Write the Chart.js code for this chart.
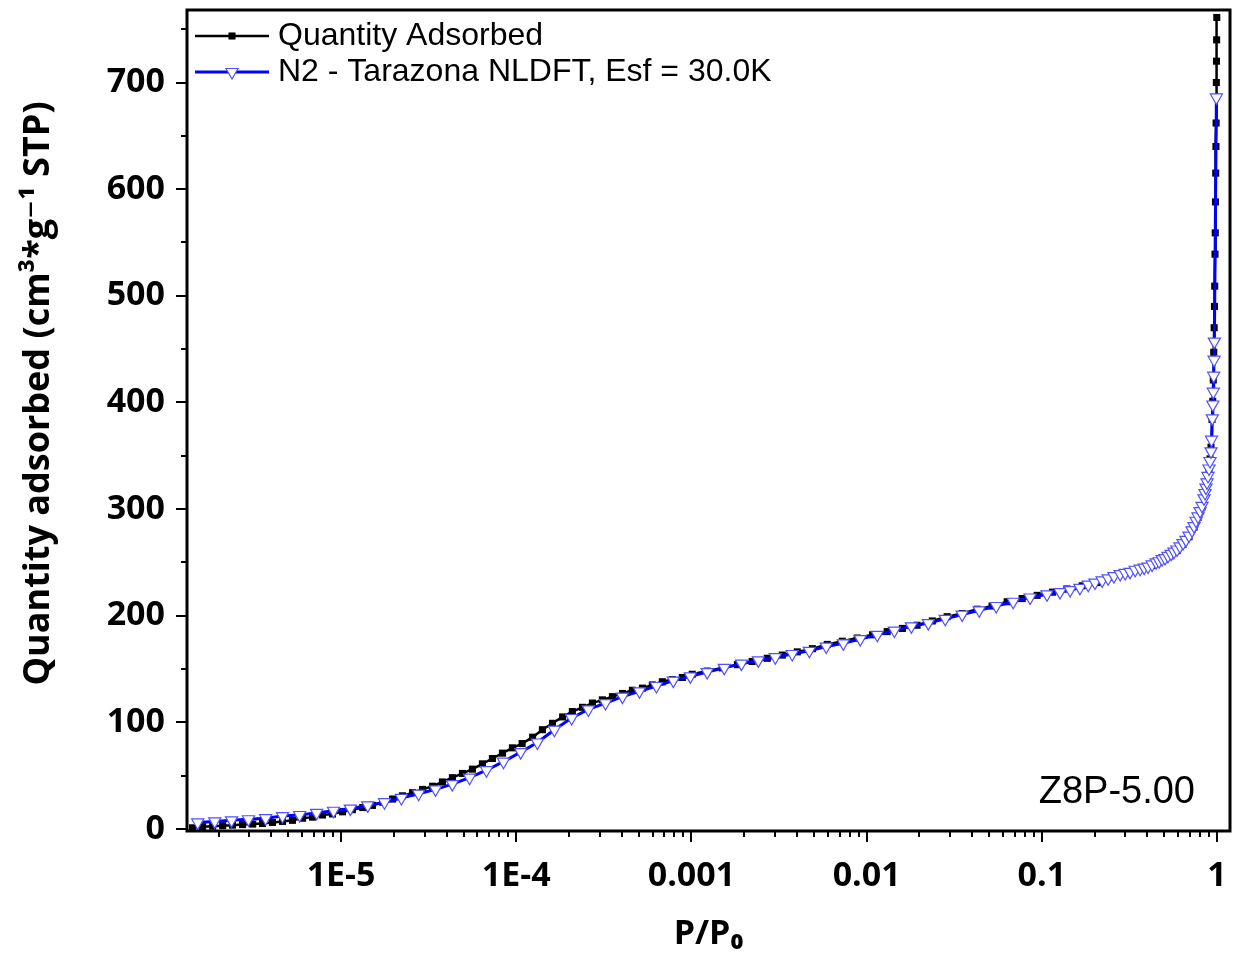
<!DOCTYPE html>
<html>
<head>
<meta charset="utf-8">
<title>Z8P-5.00 N2 isotherm</title>
<script src="https://cdn.jsdelivr.net/npm/chart.js@4.4.1/dist/chart.umd.min.js"></script>
<style>
  body { margin: 0; background: #fff; }
  canvas { display: block; }
</style>
</head>
<body>
<canvas id="myChart" width="1233" height="957"></canvas>
<script>
// measured isotherm: relative pressure P/P0 and quantity adsorbed (cm3/g STP)
const measuredP = [
  1.42e-6, 1.62e-6, 1.85e-6, 2.11e-6, 2.40e-6, 2.74e-6, 3.13e-6, 3.56e-6, 4.06e-6, 4.63e-6,
  5.28e-6, 6.03e-6, 6.87e-6, 7.83e-6, 8.93e-6, 1.02e-5, 1.16e-5, 1.33e-5, 1.51e-5, 1.73e-5,
  1.97e-5, 2.24e-5, 2.56e-5, 2.92e-5, 3.33e-5, 3.79e-5, 4.32e-5, 4.93e-5, 5.62e-5, 6.41e-5,
  7.31e-5, 8.34e-5, 9.51e-5, 1.08e-4, 1.24e-4, 1.41e-4, 1.61e-4, 1.84e-4, 2.09e-4, 2.39e-4,
  2.72e-4, 3.10e-4, 3.54e-4, 4.04e-4, 4.60e-4, 5.25e-4, 5.98e-4, 6.82e-4, 7.78e-4, 8.87e-4,
  1.01e-3, 1.23e-3, 1.50e-3, 1.83e-3, 2.22e-3, 2.71e-3, 3.30e-3, 4.02e-3, 4.90e-3, 5.96e-3,
  7.26e-3, 8.84e-3, 1.08e-2, 1.31e-2, 1.60e-2, 1.94e-2, 2.37e-2, 2.88e-2, 3.51e-2, 4.28e-2,
  5.20e-2, 6.34e-2, 7.72e-2, 9.40e-2, 0.115, 0.139, 0.170, 0.207, 0.252, 0.307,
  0.373, 0.426, 0.486, 0.540, 0.591, 0.640, 0.692, 0.739, 0.779, 0.821,
  0.854, 0.877, 0.900, 0.912, 0.924, 0.936, 0.945, 0.952, 0.958, 0.963,
  0.967, 0.970, 0.974, 0.977, 0.980, 0.983, 0.986, 0.988, 0.991, 0.993,
  0.995, 0.997
];
const measuredQ = [
  1, 2, 2.5, 3, 3.5, 4, 4.5, 5, 6, 7,
  8, 10, 11, 13, 14, 16, 18, 20, 22, 25,
  28, 31, 34, 37, 40, 44, 48, 52, 56, 61,
  66, 71, 76, 80, 86, 93, 99, 105, 110, 114,
  118, 121, 124, 127, 130, 132, 135, 138, 140, 142,
  145, 148, 151, 154, 157, 160, 163, 166, 169, 173,
  176, 179, 182, 185, 188, 191, 195, 199, 202, 206,
  209, 213, 216, 219, 222, 225, 228, 231, 236, 240,
  244, 247, 252, 256, 261, 267, 274, 283, 292, 302,
  314, 325, 338, 347, 358, 384, 401, 421, 447, 470,
  490, 509, 539, 559, 588, 615, 640, 662, 700, 720,
  740, 761
];

// NLDFT (Tarazona, Esf = 30.0K) fit
const fitP = [
  1.52e-6, 1.90e-6, 2.37e-6, 2.96e-6, 3.71e-6, 4.63e-6, 5.80e-6, 7.25e-6, 9.06e-6, 1.13e-5,
  1.42e-5, 1.77e-5, 2.21e-5, 2.77e-5, 3.46e-5, 4.32e-5, 5.41e-5, 6.76e-5, 8.45e-5, 1.06e-4,
  1.32e-4, 1.65e-4, 2.07e-4, 2.58e-4, 3.23e-4, 4.04e-4, 5.05e-4, 6.31e-4, 7.88e-4, 9.86e-4,
  1.23e-3, 1.54e-3, 1.93e-3, 2.41e-3, 3.01e-3, 3.76e-3, 4.71e-3, 5.88e-3, 7.36e-3, 9.20e-3,
  1.15e-2, 1.44e-2, 1.80e-2, 2.25e-2, 2.81e-2, 3.51e-2, 4.39e-2, 5.49e-2, 6.86e-2, 8.57e-2,
  0.107, 0.127, 0.145, 0.165, 0.184, 0.201, 0.221, 0.239, 0.258, 0.280,
  0.299, 0.319, 0.341, 0.364, 0.384, 0.404, 0.426, 0.449, 0.467, 0.486,
  0.505, 0.525, 0.547, 0.568, 0.591, 0.615, 0.640, 0.665, 0.692, 0.720,
  0.739, 0.759, 0.779, 0.800, 0.821, 0.843, 0.854, 0.865, 0.877, 0.888,
  0.900, 0.912, 0.924, 0.930, 0.940, 0.946, 0.952, 0.957, 0.962, 0.966,
  0.992
];
const fitQ = [
  6, 7, 8, 9, 10, 12, 13, 15, 17, 19,
  22, 25, 29, 33, 37, 42, 48, 55, 63, 72,
  81, 93, 104, 112, 118, 124, 129, 134, 139, 143,
  147, 151, 155, 158, 161, 164, 167, 171, 174, 178,
  182, 186, 190, 193, 197, 201, 205, 209, 213, 217,
  220, 222, 224, 226, 229, 231, 233, 235, 237, 239,
  240, 241, 243, 244, 245, 246, 248, 250, 251, 253,
  254, 256, 258, 260, 262, 265, 268, 271, 275, 280,
  284, 289, 293, 298, 303, 310, 315, 320, 325, 331,
  338, 345, 354, 365, 385, 398, 410, 425, 440, 457,
  686
];

const xTickValues = [1e-5, 1e-4, 1e-3, 1e-2, 0.1, 1];
const xTickLabels = ['1E-5', '1E-4', '0.001', '0.01', '0.1', '1'];
const yTickValues = [0, 100, 200, 300, 400, 500, 600, 700];
const sampleName = 'Z8P-5.00';

const axisFont = "'Open Sans', 'DejaVu Sans', sans-serif";
const textFont = "'Liberation Sans', Arial, sans-serif";

// keep the plot box where the original has it: no extra padding for edge labels
function noScalePadding(scale) {
  scale.paddingLeft = 0;
  scale.paddingRight = 0;
  scale.paddingTop = 0;
  scale.paddingBottom = 0;
}

// frame, outside ticks (major + minor), legend inside the plot and sample label
const frameAndTicks = {
  id: 'frameAndTicks',
  afterDraw(chart) {
    const ctx = chart.ctx;
    const area = chart.chartArea;
    const xs = chart.scales.x;
    const ys = chart.scales.y;
    ctx.save();
    ctx.strokeStyle = '#000';
    ctx.lineWidth = 2;
    ctx.beginPath();
    for (let e = -6; e <= 0; e++) {
      for (let k = 1; k <= 9; k++) {
        const v = k * Math.pow(10, e);
        if (v < xs.min || v > xs.max) continue;
        const px = Math.round(xs.getPixelForValue(v));
        ctx.moveTo(px, area.bottom);
        ctx.lineTo(px, area.bottom + (k === 1 ? 11 : 6));
      }
    }
    for (let v = 0; v <= ys.max; v += 50) {
      const py = Math.round(ys.getPixelForValue(v));
      ctx.moveTo(area.left, py);
      ctx.lineTo(area.left - (v % 100 === 0 ? 11 : 6), py);
    }
    ctx.stroke();

    ctx.lineWidth = 3;
    ctx.strokeRect(area.left, area.top, area.right - area.left, area.bottom - area.top);

    // legend
    const rows = [chart.data.datasets[0], chart.data.datasets[1]];
    ctx.font = '32px ' + textFont;
    ctx.textBaseline = 'middle';
    ctx.textAlign = 'left';
    rows.forEach(function(ds, i) {
      const y = area.top + 26 + i * 36;
      const x0 = area.left + 8;
      ctx.strokeStyle = ds.borderColor;
      ctx.lineWidth = ds.borderWidth;
      ctx.beginPath();
      ctx.moveTo(x0, y);
      ctx.lineTo(x0 + 74, y);
      ctx.stroke();
      ctx.fillStyle = ds.pointBackgroundColor;
      ctx.strokeStyle = ds.pointBorderColor;
      ctx.lineWidth = ds.pointBorderWidth;
      Chart.helpers.drawPoint(ctx, {
        pointStyle: ds.pointStyle,
        rotation: ds.pointRotation || 0,
        radius: ds.pointRadius,
        borderWidth: ds.pointBorderWidth
      }, x0 + 37, y);
      ctx.fillStyle = '#000';
      ctx.fillText(ds.label, x0 + 83, y);
    });

    ctx.font = '38px ' + textFont;
    ctx.textAlign = 'right';
    ctx.fillStyle = '#000';
    ctx.fillText(sampleName, area.right - 35, area.bottom - 38);
    ctx.restore();
  }
};

const ctx = document.getElementById('myChart').getContext('2d');
const myChart = new Chart(ctx, {
  type: 'line',
  data: {
    datasets: [{
      label: 'Quantity Adsorbed',
      data: measuredP.map((p, i) => ({ x: p, y: measuredQ[i] })),
      borderColor: '#000000',
      borderWidth: 2.5,
      pointStyle: 'rect',
      pointRadius: 5,
      pointBackgroundColor: '#000000',
      pointBorderColor: '#000000',
      pointBorderWidth: 0,
      tension: 0,
      order: 2
    }, {
      label: 'N2 - Tarazona NLDFT, Esf = 30.0K',
      data: fitP.map((p, i) => ({ x: p, y: fitQ[i] })),
      borderColor: '#0000ff',
      borderWidth: 3,
      pointStyle: 'triangle',
      pointRotation: 180,
      pointRadius: 7,
      pointBackgroundColor: '#ffffff',
      pointBorderColor: '#5050ff',
      pointBorderWidth: 1.2,
      tension: 0,
      order: 1
    }]
  },
  options: {
    responsive: false,
    animation: false,
    devicePixelRatio: 1,
    events: [],
    layout: { autoPadding: false, padding: { top: 10, right: 3, left: 0, bottom: 0 } },
    plugins: {
      legend: { display: false },
      tooltip: { enabled: false }
    },
    scales: {
      x: {
        type: 'logarithmic',
        min: 1.32e-6,
        max: 1.186,
        afterBuildTicks: function(scale) {
          scale.ticks = xTickValues.map(v => ({ value: v }));
        },
        afterFit: function(scale) {
          scale.height = 126;
          noScalePadding(scale);
        },
        grid: { display: false, drawTicks: false },
        border: { display: false },
        ticks: {
          autoSkip: false,
          maxRotation: 0,
          padding: 25,
          color: '#000',
          font: { family: axisFont, size: 34, weight: 'bold' },
          callback: function(value, index) { return xTickLabels[index]; }
        },
        title: {
          display: true,
          text: 'P/P\u2080',
          color: '#000',
          font: { family: axisFont, size: 34, weight: 'bold' },
          padding: { top: 0, bottom: 2 }
        }
      },
      y: {
        type: 'linear',
        min: -2,
        max: 768,
        afterBuildTicks: function(scale) {
          scale.ticks = yTickValues.map(v => ({ value: v }));
        },
        afterFit: function(scale) {
          scale.width = 187;
          noScalePadding(scale);
        },
        grid: { display: false, drawTicks: false },
        border: { display: false },
        ticks: {
          autoSkip: false,
          padding: 22,
          color: '#000',
          font: { family: axisFont, size: 34, weight: 'bold' }
        },
        title: {
          display: true,
          text: '\u2003\u2002Quantity adsorbed (cm\u00b3*g\u207b\u00b9 STP)',
          color: '#000',
          font: { family: axisFont, size: 36, weight: 'bold' },
          padding: { top: 17, bottom: 0 }
        }
      }
    }
  },
  plugins: [frameAndTicks]
});
</script>
</body>
</html>
